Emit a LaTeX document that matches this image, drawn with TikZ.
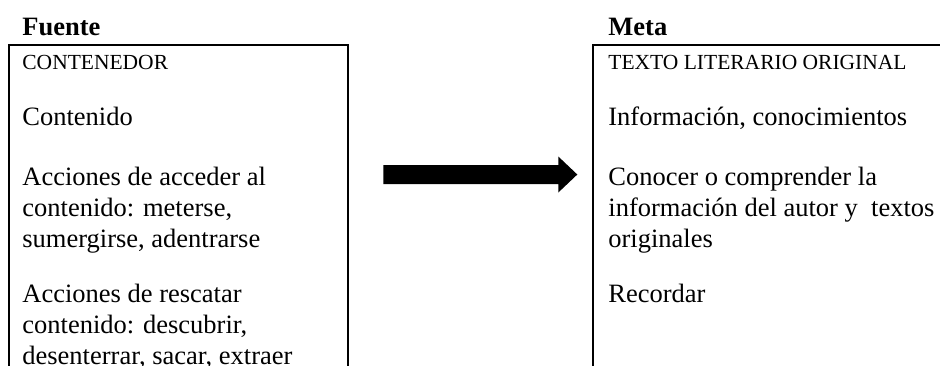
\documentclass[tikz,border=0pt]{standalone}
\usepackage{fontspec}
\setmainfont{Liberation Serif}
\begin{document}
\begin{tikzpicture}[x=0.5pt,y=-0.5pt,
  frame/.style={line width=1pt},
  heading/.style={anchor=base west,inner sep=0pt,font=\fontsize{13.25}{15.65}\selectfont\bfseries},
  tag/.style={anchor=base west,inner sep=0pt,font=\fontsize{10.75}{13}\selectfont},
  entry/.style={anchor=base west,inner sep=0pt,align=left,font=\fontsize{13.25}{15.65}\selectfont},
  blockarrow/.style={fill=black}]
\useasboundingbox (0,0) rectangle (940,365);
\clip (0,0) rectangle (940,365);

% open frames (cut off at the bottom and right)
\draw[frame] (8.5,380) |- (347.5,45) -- (347.5,380);
\draw[frame] (593,380) |- (950,45);

% source column (multi-line nodes sit on the baseline of their last line)
\node[heading] (fuente) at (22,35) {Fuente};
\node[tag] (contenedor) at (22,69) {CONTENEDOR};
\node[entry] (contenido) at (22,125) {Contenido};
\node[entry] (acceder) at (22,247.6) {Acciones de acceder al\\contenido: meterse,\\sumergirse, adentrarse};
\node[entry] (rescatar) at (22,364.6) {Acciones de rescatar\\contenido: descubrir,\\desenterrar, sacar, extraer};

% target column
\node[heading] (meta) at (608,35) {Meta};
\node[tag] (texto) at (608,69) {TEXTO LITERARIO ORIGINAL};
\node[entry] (informacion) at (608,125) {Información, conocimientos};
\node[entry] (conocer) at (608,247.6) {Conocer o comprender la\\información del autor y~ textos\\originales};
\node[entry] (recordar) at (608,302) {Recordar};

% block arrow from source to target
\coordinate (tail) at (383.3,174.5);
\coordinate (tip) at (577.3,174.5);
\fill[blockarrow] ([shift={(0,-9.5)}]tail) -- ([shift={(-19,-9.5)}]tip) -- ([shift={(-19,-18)}]tip)
  -- (tip) -- ([shift={(-19,18)}]tip) -- ([shift={(-19,9.5)}]tip) -- ([shift={(0,9.5)}]tail) -- cycle;
\end{tikzpicture}
\end{document}
